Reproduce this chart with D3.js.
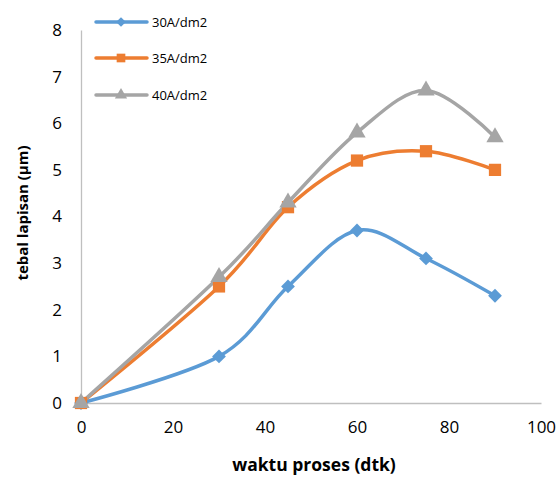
<!DOCTYPE html>
<html>
<head>
<meta charset="utf-8">
<script src="https://cdn.jsdelivr.net/npm/d3@7"></script>
<style>
  html, body { margin: 0; padding: 0; background: #fff; }
  svg { display: block; font-family: "Open Sans", "Liberation Sans", sans-serif; }
</style>
</head>
<body>
<svg id="chart" width="556" height="477"></svg>
<script>
// Coating thickness vs. process time for three current densities
const times = [0, 30, 45, 60, 75, 90];
const series30 = [0, 1.0, 2.5, 3.7, 3.1, 2.3];
const series35 = [0, 2.5, 4.2, 5.2, 5.4, 5.0];
const series40 = [0, 2.7, 4.3, 5.8, 6.7, 5.7];
const seriesNames = ["30A/dm2", "35A/dm2", "40A/dm2"];
const xTicks = [0, 20, 40, 60, 80, 100];
const yTicks = [0, 1, 2, 3, 4, 5, 6, 7, 8];

const colors = ["#5b9bd5", "#ed7d31", "#a5a5a5"];
// marker shapes: square turned 45° (diamond), square, triangle
const symbols = [d3.symbolSquare, d3.symbolSquare, d3.symbolTriangle];
const symRotate = [45, 0, 0];
const symSizes = [95, 150, 130];

const svg = d3.select("#chart");
const x = d3.scaleLinear().domain([0, 100]).range([81, 541]);
const y = d3.scaleLinear().domain([0, 8]).range([403, 30]);

// axes (no tick marks, light grey lines)
const xAxis = svg.append("g").attr("transform", `translate(0,${y(0)})`)
  .call(d3.axisBottom(x).tickValues(xTicks).tickSize(0).tickPadding(18));
const yAxis = svg.append("g").attr("transform", `translate(${x(0)},0)`)
  .call(d3.axisLeft(y).tickValues(yTicks).tickSize(0).tickPadding(19));
[xAxis, yAxis].forEach(g => {
  g.select(".domain").attr("stroke", "#bfbfbf").attr("stroke-width", 1.3);
  g.selectAll("text").attr("font-size", 17).attr("fill", "#000")
    .attr("font-family", "'Open Sans', sans-serif");
});
xAxis.selectAll("text").attr("dy", "0.71em");

// axis titles
svg.append("text").attr("x", 314).attr("y", 471).attr("text-anchor", "middle")
  .attr("font-size", 17.5).attr("font-weight", "bold").text("waktu proses (dtk)");
svg.append("text").attr("transform", "translate(28,213) rotate(-90)")
  .attr("text-anchor", "middle").attr("font-size", 15).attr("font-weight", "bold")
  .text("tebal lapisan (µm)");

const data = [series30, series35, series40];
const line = d3.line()
  .x(d => x(d[0])).y(d => y(d[1]))
  .curve(d3.curveCardinal.tension(0));

data.forEach((vals, i) => {
  const pts = times.map((t, j) => [t, vals[j]]);
  svg.append("path").datum(pts)
    .attr("d", line).attr("fill", "none")
    .attr("stroke", colors[i]).attr("stroke-width", 3.5)
    .attr("stroke-linejoin", "round");
});
data.forEach((vals, i) => {
  const pts = times.map((t, j) => [t, vals[j]]);
  svg.append("g").selectAll("path").data(pts).join("path")
    .attr("transform", d => `translate(${x(d[0])},${y(d[1])}) rotate(${symRotate[i]})`)
    .attr("d", d3.symbol().type(symbols[i]).size(symSizes[i]))
    .attr("fill", colors[i]);
});

// legend
const legendY = [22, 58, 95];
seriesNames.forEach((name, i) => {
  const g = svg.append("g").attr("transform", `translate(0,${legendY[i]})`);
  g.append("line").attr("x1", 96).attr("x2", 147).attr("y1", 0).attr("y2", 0)
    .attr("stroke", colors[i]).attr("stroke-width", 3.5).attr("stroke-linecap", "round");
  g.append("path").attr("transform", `translate(121,0) rotate(${symRotate[i]})`)
    .attr("d", d3.symbol().type(symbols[i]).size(symSizes[i] * 0.5))
    .attr("fill", colors[i]);
  g.append("text").attr("x", 152).attr("y", 0).attr("dy", "0.35em")
    .attr("font-size", 13).text(name);
});
</script>
</body>
</html>
